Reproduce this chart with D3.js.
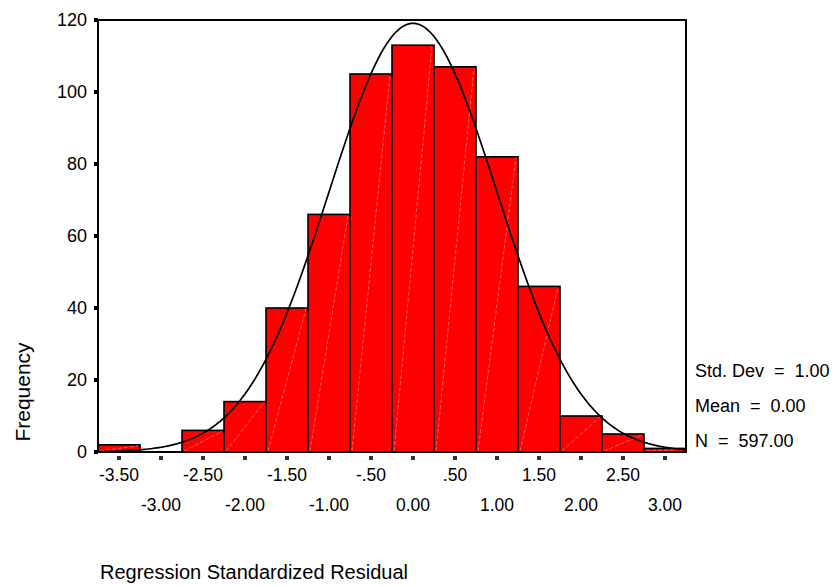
<!DOCTYPE html>
<html>
<head>
<meta charset="utf-8">
<script src="https://cdnjs.cloudflare.com/ajax/libs/d3/7.8.5/d3.min.js"></script>
<style>
  body { margin: 0; background: #ffffff; }
  svg { display: block; font-family: "Liberation Sans", Arial, sans-serif; }
</style>
</head>
<body>
<div id="chart"></div>
<script>
// bin centres (width 0.5) and counts
const binCenters = [-3.5, -3.0, -2.5, -2.0, -1.5, -1.0, -0.5, 0.0, 0.5, 1.0, 1.5, 2.0, 2.5, 3.0];
const frequencies = [2, 0, 6, 14, 40, 66, 105, 113, 107, 82, 46, 10, 5, 1];
const binWidth = 0.5;

const yTicks = [0, 20, 40, 60, 80, 100, 120];
const xTickValues = [-3.5, -3.0, -2.5, -2.0, -1.5, -1.0, -0.5, 0.0, 0.5, 1.0, 1.5, 2.0, 2.5, 3.0];
const xTickLabels = ["-3.50", "-3.00", "-2.50", "-2.00", "-1.50", "-1.00", "-.50", "0.00", ".50", "1.00", "1.50", "2.00", "2.50", "3.00"];

// summary stats shown at the right
const stdDev = 1.00;
const mean = 0.00;
const nCases = 597;
const statLabels = ["Std. Dev  =  1.00", "Mean  =  0.00", "N  =  597.00"];

const width = 839, height = 587;
const plotLeft = 98, plotRight = 686, plotTop = 20, plotBottom = 452;

const svg = d3.select("#chart").append("svg")
  .attr("width", width).attr("height", height);

const x = d3.scaleLinear().domain([-3.75, 3.25]).range([plotLeft, plotRight]);
const y = d3.scaleLinear().domain([0, 120]).range([plotBottom, plotTop]);

const data = binCenters.map((c, i) => ({ c: c, f: frequencies[i] }));

// bars
const bars = svg.append("g");
bars.selectAll("rect")
  .data(data.filter(d => d.f > 0))
  .enter().append("rect")
  .attr("x", d => x(d.c - binWidth / 2))
  .attr("y", d => y(d.f))
  .attr("width", d => x(d.c + binWidth / 2) - x(d.c - binWidth / 2))
  .attr("height", d => y(0) - y(d.f))
  .attr("fill", "#ff0000")
  .attr("stroke", "#000")
  .attr("stroke-width", 1.6);

// faint diagonal streaks inside the bars
bars.selectAll("line")
  .data(data.filter(d => d.f > 0))
  .enter().append("line")
  .attr("x1", d => x(d.c - binWidth / 2) + 2)
  .attr("y1", d => y(0) - 1)
  .attr("x2", d => x(d.c + binWidth / 2) - 2)
  .attr("y2", d => y(d.f) + 1)
  .attr("stroke", "#ffb8b8")
  .attr("stroke-width", 0.5)
  .attr("stroke-dasharray", "4,2");

// normal curve from mean / sd / N
const pts = d3.range(-3.75, 3.2501, 0.025).map(v => {
  const z = (v - mean) / stdDev;
  return [v, nCases * binWidth * Math.exp(-0.5 * z * z) / (stdDev * Math.sqrt(2 * Math.PI))];
});
svg.append("path")
  .datum(pts)
  .attr("fill", "none")
  .attr("stroke", "#000")
  .attr("stroke-width", 1.7)
  .attr("d", d3.line().x(d => x(d[0])).y(d => y(d[1])));

// frame
svg.append("rect")
  .attr("x", plotLeft).attr("y", plotTop)
  .attr("width", plotRight - plotLeft).attr("height", plotBottom - plotTop)
  .attr("fill", "none").attr("stroke", "#000").attr("stroke-width", 2);

// y axis: square ticks + labels
const yAxis = svg.append("g");
yAxis.selectAll("rect")
  .data(yTicks).enter().append("rect")
  .attr("x", plotLeft - 4).attr("y", d => y(d) - 2)
  .attr("width", 4).attr("height", 4)
  .attr("fill", "#000");
yAxis.selectAll("text")
  .data(yTicks).enter().append("text")
  .attr("x", plotLeft - 11).attr("y", d => y(d))
  .attr("dy", "0.35em")
  .attr("text-anchor", "end")
  .style("font-size", "18px")
  .text(d => d);

// x axis: square ticks + staggered labels
const xAxis = svg.append("g");
xAxis.selectAll("rect")
  .data(xTickValues).enter().append("rect")
  .attr("x", d => x(d) - 2).attr("y", plotBottom + 4)
  .attr("width", 4).attr("height", 4)
  .attr("fill", "#333");
xAxis.selectAll("text")
  .data(xTickValues).enter().append("text")
  .attr("x", d => x(d))
  .attr("y", (d, i) => i % 2 === 0 ? 481 : 511)
  .attr("text-anchor", "middle")
  .style("font-size", "17.5px")
  .text((d, i) => xTickLabels[i]);

// stats block
svg.append("g").selectAll("text")
  .data(statLabels).enter().append("text")
  .attr("x", 695)
  .attr("y", (d, i) => 377 + i * 35)
  .style("font-size", "18px")
  .style("white-space", "pre")
  .attr("xml:space", "preserve")
  .text(d => d);

// axis titles
svg.append("text")
  .attr("transform", "translate(30,392) rotate(-90)")
  .attr("text-anchor", "middle")
  .style("font-size", "21px")
  .text("Frequency");

svg.append("text")
  .attr("x", 100).attr("y", 579)
  .style("font-size", "20px")
  .text("Regression Standardized Residual");
</script>
</body>
</html>
